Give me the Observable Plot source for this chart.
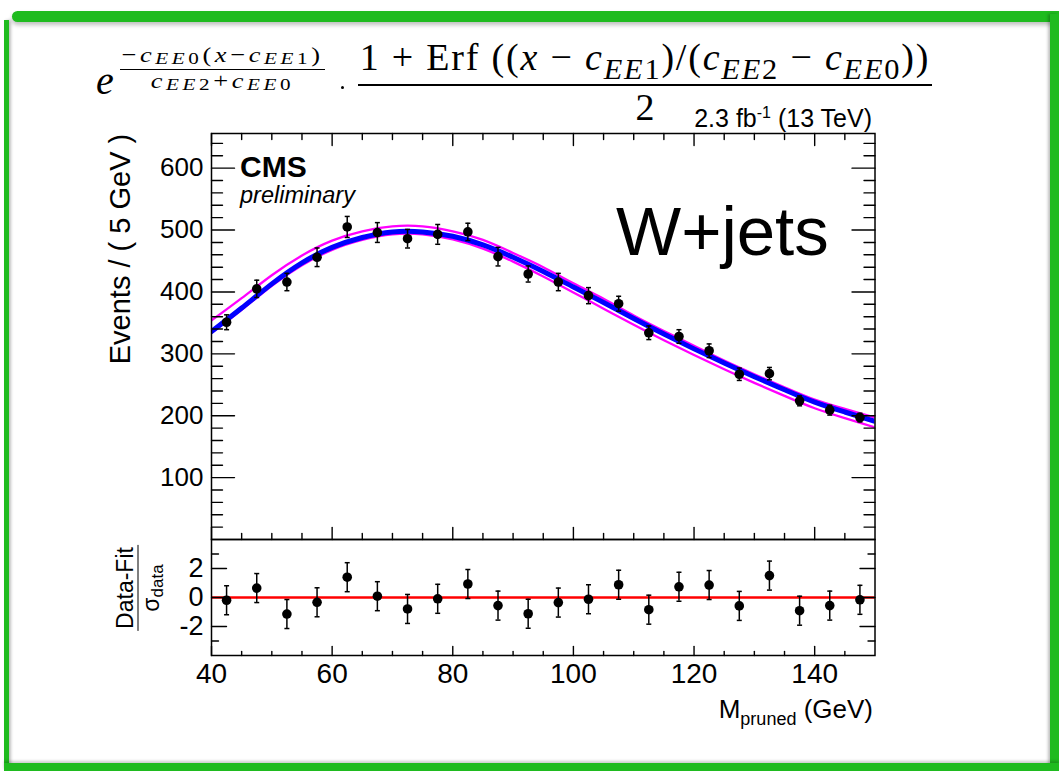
<!DOCTYPE html>
<html><head><meta charset="utf-8">
<script src="https://cdn.jsdelivr.net/npm/d3@7"></script>
<script src="https://cdn.jsdelivr.net/npm/@observablehq/plot@0.6"></script>
<style>
body{margin:0;background:#fff;}
#page{position:relative;width:1059px;height:771px;overflow:hidden;background:#fff;font-family:"Liberation Sans",Arial,sans-serif;color:#000;}
.abs{position:absolute;white-space:nowrap;line-height:1;}
.serif{font-family:"Liberation Serif","Times New Roman",serif;}
.it{font-style:italic;}
.sb{font-size:0.8em;position:relative;top:0.28em;}
.sbs{font-size:0.8em;position:relative;top:0.15em;}
svg{position:absolute;left:0;}
</style></head><body>
<div id="page">
  <!-- green slide border -->
  <div class="abs" style="left:12px;top:11px;width:1047px;height:11px;background:#1fbb1f;border-radius:8px 0 0 8px;box-shadow:0 3px 4px rgba(0,0,0,0.25);"></div>
  <div class="abs" style="left:4px;top:20px;width:5px;height:748px;background:#1fbb1f;box-shadow:2px 0 3px rgba(0,0,0,0.25);"></div>
  <div class="abs" style="left:1050px;top:14px;width:9px;height:757px;background:#1fbb1f;box-shadow:-2px 0 3px rgba(0,0,0,0.25);"></div>
  <div class="abs" style="left:4px;top:763px;width:1055px;height:8px;background:#1fbb1f;box-shadow:0 -2px 3px rgba(0,0,0,0.2);"></div>

  <div id="upper"></div>
  <div id="lower"></div>

  <!-- formula -->
  <div class="abs serif it" style="left:96px;top:61px;font-size:40px;">e</div>
  <div class="abs serif" style="left:120px;top:43.5px;width:205px;text-align:center;font-size:22px;letter-spacing:3px;transform:scaleX(1.2);">&minus;<span class="it">c</span><span class="sbs"><i>EE</i>0</span>(<span class="it">x</span>&minus;<span class="it">c</span><span class="sbs"><i>EE</i>1</span>)</div>
  <div class="abs" style="left:120px;top:68.5px;width:205px;height:1.2px;background:#000;"></div>
  <div class="abs serif" style="left:120px;top:69.5px;width:205px;text-align:center;font-size:22px;letter-spacing:3px;transform:scaleX(1.2);"><span class="it">c</span><span class="sbs"><i>EE</i>2</span>+<span class="it">c</span><span class="sbs"><i>EE</i>0</span></div>
  <div class="abs" style="left:341px;top:86px;width:3px;height:3px;border-radius:50%;background:#000;"></div>
  <div class="abs serif" style="left:358px;top:38px;width:574px;text-align:center;font-size:38px;letter-spacing:1.8px;">1 + Erf ((<span class="it">x</span> &minus; <span class="it">c</span><span class="sb"><i>EE</i>1</span>)/(<span class="it">c</span><span class="sb"><i>EE</i>2</span> &minus; <span class="it">c</span><span class="sb"><i>EE</i>0</span>))</div>
  <div class="abs" style="left:358px;top:84px;width:574px;height:1.6px;background:#000;"></div>
  <div class="abs serif" style="left:358px;top:88px;width:574px;text-align:center;font-size:38px;">2</div>

  <div class="abs" style="right:187px;top:106px;font-size:25px;">2.3 fb<span style="font-size:16px;position:relative;top:-9px;">-1</span> (13 TeV)</div>

  <div class="abs" style="left:240px;top:152px;font-size:30px;font-weight:bold;">CMS</div>
  <div class="abs it" style="left:240px;top:184px;font-size:23.5px;">preliminary</div>
  <div class="abs" style="left:616px;top:197px;font-size:69px;">W+jets</div>

  <div class="abs" style="left:120px;top:249px;font-size:29px;transform:translate(-50%,-50%) rotate(-90deg);">Events / ( 5 GeV )</div>

  <div class="abs" style="left:138px;top:588px;transform:translate(-50%,-50%) rotate(-90deg);display:flex;flex-direction:column;align-items:center;font-size:23px;">
    <div style="padding:0 2px 1px 2px;border-bottom:1.5px solid #000;">Data-Fit</div>
    <div style="padding-top:1px;">&sigma;<span style="font-size:17px;position:relative;top:4px;">data</span></div>
  </div>

  <div class="abs" style="right:186px;top:696px;font-size:26px;">M<span style="font-size:18px;position:relative;top:7px;">pruned</span> (GeV)</div>
</div>
<script>
// ---- data ----
const massBins = [42.5, 47.5, 52.5, 57.5, 62.5, 67.5, 72.5, 77.5, 82.5, 87.5, 92.5, 97.5, 102.5, 107.5, 112.5, 117.5, 122.5, 127.5, 132.5, 137.5, 142.5, 147.5];
const events   = [351, 405, 416, 456, 505, 496, 486, 493, 497, 457, 429, 416, 394, 381, 334, 328, 305, 267, 268, 224, 209, 197];
const eventErr = [12, 14, 14, 15, 17, 16, 15, 16, 14, 15, 13, 14, 13, 12, 11, 11, 11, 10, 10, 8, 8, 7];
const pulls    = [-0.19, 0.65, -1.14, -0.33, 1.40, 0.09, -0.79, -0.09, 0.93, -0.56, -1.12, -0.35, -0.12, 0.88, -0.84, 0.74, 0.86, -0.58, 1.51, -0.91, -0.56, -0.16];
const pullErr  = [1, 1, 1, 1, 1, 1, 1, 1, 1, 1, 1, 1, 1, 1, 1, 1, 1, 1, 1, 1, 1, 1];

const curveMass = [40, 45, 50, 55, 60, 65, 70, 75, 80, 85, 90, 95, 100, 105, 110, 115, 120, 125, 130, 135, 140, 145, 150];
const fitCurve  = [336, 374, 413, 447, 472, 488, 497, 497, 490, 476, 456, 433, 408, 383, 357, 332, 308, 285, 263, 242, 222, 206, 191];
const fitUpper  = [354, 390, 427, 459, 483, 498, 506, 506, 498, 484, 463, 440, 414, 389, 362, 337, 313, 289, 267, 246, 226, 211, 197];
const fitLower  = [334, 371, 410, 443, 468, 484, 493, 493, 485, 470, 449, 425, 399, 373, 347, 322, 298, 275, 253, 232, 212, 196, 181];

const massTicks = [40, 60, 80, 100, 120, 140];
const massMinor = [45, 50, 55, 65, 70, 75, 85, 90, 95, 105, 110, 115, 125, 130, 135, 145];
const eventTicks = [100, 200, 300, 400, 500, 600];
const eventMinor = [20, 40, 60, 80, 120, 140, 160, 180, 220, 240, 260, 280, 320, 340, 360, 380, 420, 440, 460, 480, 520, 540, 560, 580, 620, 640];
const pullTicks = [-2, 0, 2];
const pullMinor = [-3, 3];

// ---- build ----
const evRows = massBins.map((m, i) => ({m, n: events[i], lo: events[i] - eventErr[i], hi: events[i] + eventErr[i]}));
const plRows = massBins.map((m, i) => ({m, p: pulls[i], lo: pulls[i] - pullErr[i], hi: pulls[i] + pullErr[i]}));
const curve = (vals) => curveMass.map((m, i) => ({m, v: vals[i]}));

const capShape = {draw(ctx, size) { const w = Math.sqrt(size / Math.PI); ctx.moveTo(-w, 0); ctx.lineTo(w, 0); }};
const lineShape = {draw(ctx, l) { ctx.moveTo(0, 0); ctx.lineTo(0, -l); }};
const tk = (data, ch, frameAnchor, rotate, length) =>
  Plot.vector(data, {[ch]: d => d, frameAnchor, rotate, length, anchor: "start", shape: lineShape, stroke: "black", strokeWidth: 1.4});

const FONT = "'Liberation Sans', Arial, sans-serif";
const W = 1059, ML = 211, MR = 184.5;

const upper = Plot.plot({
  width: W, height: 539, marginLeft: ML, marginRight: MR, marginTop: 133, marginBottom: 0,
  style: {background: "transparent", color: "black", fontFamily: FONT, overflow: "visible"},
  x: {domain: [40, 150], axis: null, label: null},
  y: {domain: [0, 656], axis: null, label: null},
  marks: [
    Plot.line(curve(fitUpper), {x: "m", y: "v", stroke: "#ff00ff", strokeWidth: 2.3, curve: "natural", clip: true}),
    Plot.line(curve(fitLower), {x: "m", y: "v", stroke: "#ff00ff", strokeWidth: 2.3, curve: "natural", clip: true}),
    Plot.line(curve(fitCurve), {x: "m", y: "v", stroke: "#0000ff", strokeWidth: 5, curve: "natural", clip: true}),
    Plot.ruleX(evRows, {x: "m", y1: "lo", y2: "hi", stroke: "black", strokeWidth: 1.5}),
    Plot.dot(evRows, {x: "m", y: "lo", symbol: capShape, r: 2.5, stroke: "black", strokeWidth: 1.5, fill: "none"}),
    Plot.dot(evRows, {x: "m", y: "hi", symbol: capShape, r: 2.5, stroke: "black", strokeWidth: 1.5, fill: "none"}),
    Plot.dot(evRows, {x: "m", y: "n", r: 4.8, fill: "black", stroke: "none"}),
    tk(eventTicks, "y", "left", 90, 23), tk(eventMinor, "y", "left", 90, 11),
    tk(eventTicks, "y", "right", -90, 23), tk(eventMinor, "y", "right", -90, 11),
    tk(massTicks, "x", "top", 180, 12), tk(massMinor, "x", "top", 180, 6),
    tk(massTicks, "x", "bottom", 0, 12), tk(massMinor, "x", "bottom", 0, 6),
    Plot.axisY(eventTicks, {anchor: "left", tickSize: 0, tickPadding: 8, fontSize: 26, label: null, tickFormat: d => String(d)}),
    Plot.frame({stroke: "black", strokeWidth: 1.5})
  ]
});
upper.style.top = "0px";
document.getElementById("upper").appendChild(upper);

const lower = Plot.plot({
  width: W, height: 206, marginLeft: ML, marginRight: MR, marginTop: 0, marginBottom: 90,
  style: {background: "transparent", color: "black", fontFamily: FONT, overflow: "visible"},
  x: {domain: [40, 150], axis: null, label: null},
  y: {domain: [-4, 4], axis: null, label: null},
  marks: [
    Plot.ruleY([0], {stroke: "#ff0000", strokeWidth: 2.5}),
    Plot.ruleX(plRows, {x: "m", y1: "lo", y2: "hi", stroke: "black", strokeWidth: 1.5}),
    Plot.dot(plRows, {x: "m", y: "lo", symbol: capShape, r: 2.5, stroke: "black", strokeWidth: 1.5, fill: "none"}),
    Plot.dot(plRows, {x: "m", y: "hi", symbol: capShape, r: 2.5, stroke: "black", strokeWidth: 1.5, fill: "none"}),
    Plot.dot(plRows, {x: "m", y: "p", r: 4.8, fill: "black", stroke: "none"}),
    tk(pullTicks, "y", "left", 90, 15), tk(pullMinor, "y", "left", 90, 7),
    tk(pullTicks, "y", "right", -90, 15), tk(pullMinor, "y", "right", -90, 7),
    tk(massTicks, "x", "bottom", 0, 9), tk(massMinor, "x", "bottom", 0, 4),
    Plot.axisY(pullTicks, {anchor: "left", tickSize: 0, tickPadding: 8, fontSize: 27, label: null, tickFormat: d => String(d)}),
    Plot.axisX(massTicks, {anchor: "bottom", tickSize: 0, tickPadding: 8, fontSize: 28, label: null, tickFormat: d => String(d)}),
    Plot.frame({stroke: "black", strokeWidth: 1.5})
  ]
});
lower.style.top = "539px";
document.getElementById("lower").appendChild(lower);
</script>
</body></html>
